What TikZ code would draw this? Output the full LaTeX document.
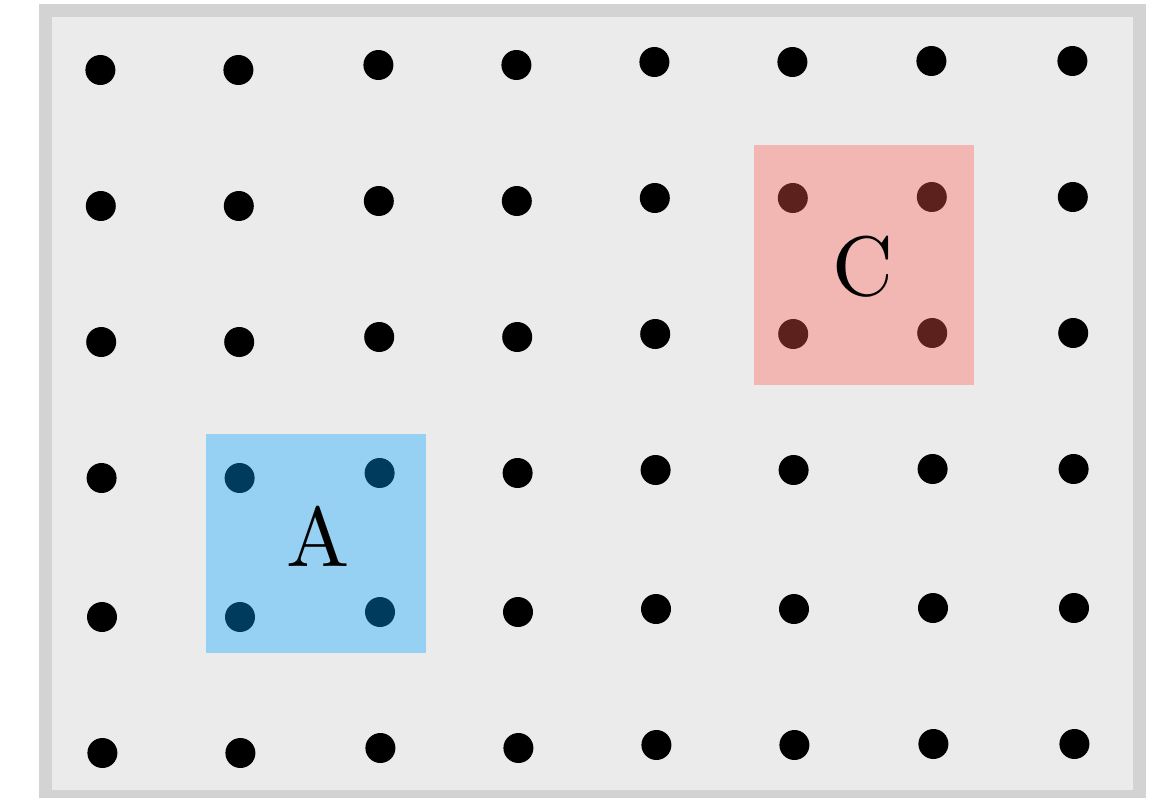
\documentclass[tikz,border=0pt]{standalone}
\usepackage{tikz}
\definecolor{FrameGrey}{RGB}{211, 211, 211}
\definecolor{PaperGrey}{RGB}{235, 235, 235}
\definecolor{RegionBlue}{RGB}{0, 161, 255}
\definecolor{RegionRed}{RGB}{255, 93, 79}

\begin{document}
\begin{tikzpicture}[x=0.02cm, y=-0.02cm]
    \useasboundingbox (0,0) rectangle (1158,797);

    % Frame
    \draw[FrameGrey, fill=PaperGrey, line width=0.26cm] (45.5,10.5) rectangle (1139.5,796.5);

    % Dots
    \foreach \x/\dy in {100/0, 238/0, 378/-5, 516/-5, 654/-8, 792/-8, 931/-9, 1072/-9}
      \foreach \y [count=\j] in {70, 206, 342, 478, 617, 753}
        \fill[black] (\x+0.4*\j,\y+\dy) circle [radius=0.3cm];

    % Regions
    \fill[RegionBlue, fill opacity=0.36] (206,434) rectangle (426,653);
    \fill[RegionRed, fill opacity=0.36] (754,145) rectangle (974,385);

    % Labels
    \node[scale=4.8] (labelA) at (318,536) {A};
    \node[scale=4.8] (labelC) at (863,267) {C};
  \end{tikzpicture}
\end{document}
